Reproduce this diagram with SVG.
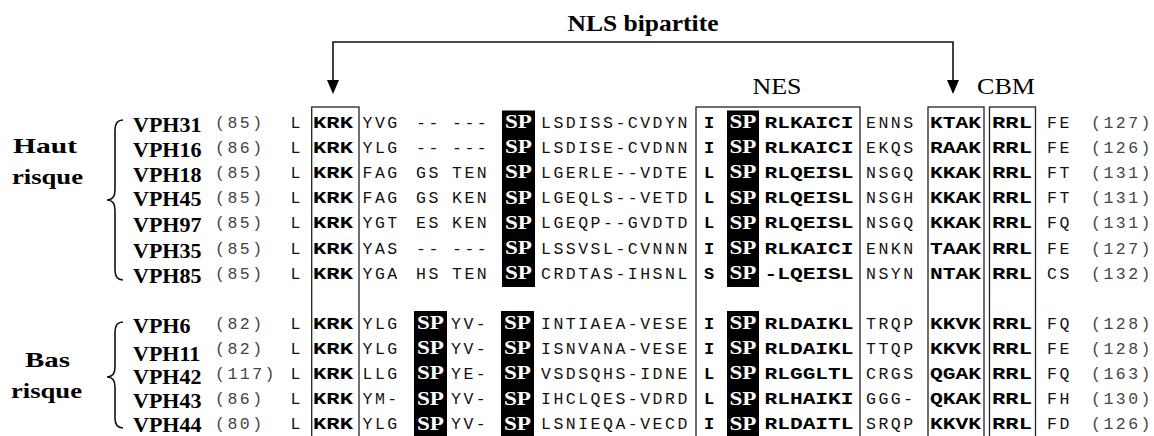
<svg xmlns="http://www.w3.org/2000/svg" width="1154" height="436" viewBox="0 0 1154 436">
  <style>
    .title { font-family: "Liberation Serif", serif; font-weight: bold; font-size: 24px; fill: #000; }
    .dom { font-family: "Liberation Serif", serif; font-size: 24px; fill: #000; }
    .grp { font-family: "Liberation Serif", serif; font-weight: bold; font-size: 22px; fill: #000; }
    .lbl { font-family: "Liberation Serif", serif; font-weight: bold; font-size: 22px; fill: #000; }
    .m { font-family: "Liberation Mono", "Courier New", monospace; font-size: 16.5px; letter-spacing: 2.5px; fill: #111; }
    .n { font-family: "Liberation Mono", "Courier New", monospace; font-size: 16.5px; letter-spacing: 2.5px; fill: #444; }
    .b { font-family: "Liberation Mono", "Courier New", monospace; font-weight: bold; font-size: 17px; fill: #000; }
    .w { font-family: "Liberation Serif", serif; font-weight: bold; font-size: 19px; fill: #fff; text-anchor: middle; }
    .box { fill: none; stroke: #222; stroke-width: 1.3; }
    .blk { fill: #000; }
    .brace { fill: none; stroke: #111; stroke-width: 1.6; }
    .conn { fill: none; stroke: #111; stroke-width: 1.6; }
  </style>
  <rect width="1154" height="436" fill="#fff"/>

  <!-- motif columns: outlined boxes and black SP cells -->
  <g id="motif-columns">
    <rect class="box" x="311.7" y="107" width="47.3" height="340"/>
    <rect class="box" x="696" y="107" width="164" height="340"/>
    <rect class="box" x="928" y="107" width="56" height="340"/>
    <rect class="box" x="989.5" y="107" width="46" height="340"/>
    <rect class="blk" x="502" y="110.5" width="33" height="176.5"/>
    <rect class="blk" x="727" y="110.5" width="32" height="176.5"/>
    <rect class="blk" x="414" y="311" width="33" height="130"/>
    <rect class="blk" x="501" y="311" width="33" height="130"/>
    <rect class="blk" x="727" y="311" width="32" height="130"/>
  </g>

  <!-- bipartite NLS connector -->
  <g id="connectors">
    <path class="conn" d="M333,80 L333,42 L953,42 L953,80"/>
    <path d="M327,80 L339,80 L333,94 Z" fill="#000"/>
    <path d="M947,80 L959,80 L953,94 Z" fill="#000"/>
  </g>

  <g id="title">
    <text class="title" x="567.5" y="31" textLength="151" lengthAdjust="spacingAndGlyphs">NLS bipartite</text>
  </g>
  <g id="label-nes">
    <text class="dom" x="752.5" y="94" textLength="49" lengthAdjust="spacingAndGlyphs">NES</text>
  </g>
  <g id="label-cbm">
    <text class="dom" x="977" y="94" textLength="58" lengthAdjust="spacingAndGlyphs">CBM</text>
  </g>

  <!-- risk groups -->
  <g id="group-haut">
    <text class="grp" x="13" y="153" textLength="64" lengthAdjust="spacingAndGlyphs">Haut</text>
    <text class="grp" x="12" y="184" textLength="71" lengthAdjust="spacingAndGlyphs">risque</text>
    <path class="brace" d="M123,120 Q115,120 115,130 L115,190 Q115,200 107,200 Q115,200 115,210 L115,270 Q115,280 123,280"/>
  </g>
  <g id="group-bas">
    <text class="grp" x="25" y="367" textLength="45" lengthAdjust="spacingAndGlyphs">Bas</text>
    <text class="grp" x="11" y="398" textLength="71" lengthAdjust="spacingAndGlyphs">risque</text>
    <path class="brace" d="M123,322 Q115,322 115,332 L115,367 Q115,377 107,377 Q115,377 115,387 L115,418 Q115,428 123,428"/>
  </g>

  <!-- high-risk rows -->
  <g id="row-vph31">
    <text class="lbl" x="133" y="131.5">VPH31</text>
    <text class="n" x="215" y="127.5">(85)</text>
    <text class="m" x="290.5" y="127.5">L</text>
    <text class="b" x="313" y="127.5" textLength="40" lengthAdjust="spacingAndGlyphs">KRK</text>
    <text class="m" x="362.5" y="127.5">YVG</text>
    <text class="m" x="416" y="127.5">--</text>
    <text class="m" x="452" y="127.5">---</text>
    <text class="w" x="518.5" y="128" textLength="27" lengthAdjust="spacingAndGlyphs">SP</text>
    <text class="m" x="541" y="127.5">LSDISS-CVDYN</text>
    <text class="b" x="709" y="127.5" text-anchor="middle">I</text>
    <text class="w" x="743" y="128" textLength="27" lengthAdjust="spacingAndGlyphs">SP</text>
    <text class="b" x="764.5" y="127.5" textLength="89" lengthAdjust="spacingAndGlyphs">RLKAICI</text>
    <text class="m" x="866" y="127.5">ENNS</text>
    <text class="b" x="930" y="127.5" textLength="51" lengthAdjust="spacingAndGlyphs">KTAK</text>
    <text class="b" x="992" y="127.5" textLength="40" lengthAdjust="spacingAndGlyphs">RRL</text>
    <text class="m" x="1047" y="127.5">FE</text>
    <text class="n" x="1091" y="127.5">(127)</text>
  </g>
  <g id="row-vph16">
    <text class="lbl" x="133" y="156.7">VPH16</text>
    <text class="n" x="215" y="152.7">(86)</text>
    <text class="m" x="290.5" y="152.7">L</text>
    <text class="b" x="313" y="152.7" textLength="40" lengthAdjust="spacingAndGlyphs">KRK</text>
    <text class="m" x="362.5" y="152.7">YLG</text>
    <text class="m" x="416" y="152.7">--</text>
    <text class="m" x="452" y="152.7">---</text>
    <text class="w" x="518.5" y="153.2" textLength="27" lengthAdjust="spacingAndGlyphs">SP</text>
    <text class="m" x="541" y="152.7">LSDISE-CVDNN</text>
    <text class="b" x="709" y="152.7" text-anchor="middle">I</text>
    <text class="w" x="743" y="153.2" textLength="27" lengthAdjust="spacingAndGlyphs">SP</text>
    <text class="b" x="764.5" y="152.7" textLength="89" lengthAdjust="spacingAndGlyphs">RLKAICI</text>
    <text class="m" x="866" y="152.7">EKQS</text>
    <text class="b" x="930" y="152.7" textLength="51" lengthAdjust="spacingAndGlyphs">RAAK</text>
    <text class="b" x="992" y="152.7" textLength="40" lengthAdjust="spacingAndGlyphs">RRL</text>
    <text class="m" x="1047" y="152.7">FE</text>
    <text class="n" x="1091" y="152.7">(126)</text>
  </g>
  <g id="row-vph18">
    <text class="lbl" x="133" y="181.7">VPH18</text>
    <text class="n" x="215" y="177.9">(85)</text>
    <text class="m" x="290.5" y="177.9">L</text>
    <text class="b" x="313" y="177.9" textLength="40" lengthAdjust="spacingAndGlyphs">KRK</text>
    <text class="m" x="362.5" y="177.9">FAG</text>
    <text class="m" x="416" y="177.9">GS</text>
    <text class="m" x="452" y="177.9">TEN</text>
    <text class="w" x="518.5" y="178.4" textLength="27" lengthAdjust="spacingAndGlyphs">SP</text>
    <text class="m" x="541" y="177.9">LGERLE--VDTE</text>
    <text class="b" x="709" y="177.9" text-anchor="middle">L</text>
    <text class="w" x="743" y="178.4" textLength="27" lengthAdjust="spacingAndGlyphs">SP</text>
    <text class="b" x="764.5" y="177.9" textLength="89" lengthAdjust="spacingAndGlyphs">RLQEISL</text>
    <text class="m" x="866" y="177.9">NSGQ</text>
    <text class="b" x="930" y="177.9" textLength="51" lengthAdjust="spacingAndGlyphs">KKAK</text>
    <text class="b" x="992" y="177.9" textLength="40" lengthAdjust="spacingAndGlyphs">RRL</text>
    <text class="m" x="1047" y="177.9">FT</text>
    <text class="n" x="1091" y="177.9">(131)</text>
  </g>
  <g id="row-vph45">
    <text class="lbl" x="133" y="206">VPH45</text>
    <text class="n" x="215" y="203.1">(85)</text>
    <text class="m" x="290.5" y="203.1">L</text>
    <text class="b" x="313" y="203.1" textLength="40" lengthAdjust="spacingAndGlyphs">KRK</text>
    <text class="m" x="362.5" y="203.1">FAG</text>
    <text class="m" x="416" y="203.1">GS</text>
    <text class="m" x="452" y="203.1">KEN</text>
    <text class="w" x="518.5" y="203.6" textLength="27" lengthAdjust="spacingAndGlyphs">SP</text>
    <text class="m" x="541" y="203.1">LGEQLS--VETD</text>
    <text class="b" x="709" y="203.1" text-anchor="middle">L</text>
    <text class="w" x="743" y="203.6" textLength="27" lengthAdjust="spacingAndGlyphs">SP</text>
    <text class="b" x="764.5" y="203.1" textLength="89" lengthAdjust="spacingAndGlyphs">RLQEISL</text>
    <text class="m" x="866" y="203.1">NSGH</text>
    <text class="b" x="930" y="203.1" textLength="51" lengthAdjust="spacingAndGlyphs">KKAK</text>
    <text class="b" x="992" y="203.1" textLength="40" lengthAdjust="spacingAndGlyphs">RRL</text>
    <text class="m" x="1047" y="203.1">FT</text>
    <text class="n" x="1091" y="203.1">(131)</text>
  </g>
  <g id="row-vph97">
    <text class="lbl" x="133" y="231.7">VPH97</text>
    <text class="n" x="215" y="228.3">(85)</text>
    <text class="m" x="290.5" y="228.3">L</text>
    <text class="b" x="313" y="228.3" textLength="40" lengthAdjust="spacingAndGlyphs">KRK</text>
    <text class="m" x="362.5" y="228.3">YGT</text>
    <text class="m" x="416" y="228.3">ES</text>
    <text class="m" x="452" y="228.3">KEN</text>
    <text class="w" x="518.5" y="228.8" textLength="27" lengthAdjust="spacingAndGlyphs">SP</text>
    <text class="m" x="541" y="228.3">LGEQP--GVDTD</text>
    <text class="b" x="709" y="228.3" text-anchor="middle">L</text>
    <text class="w" x="743" y="228.8" textLength="27" lengthAdjust="spacingAndGlyphs">SP</text>
    <text class="b" x="764.5" y="228.3" textLength="89" lengthAdjust="spacingAndGlyphs">RLQEISL</text>
    <text class="m" x="866" y="228.3">NSGQ</text>
    <text class="b" x="930" y="228.3" textLength="51" lengthAdjust="spacingAndGlyphs">KKAK</text>
    <text class="b" x="992" y="228.3" textLength="40" lengthAdjust="spacingAndGlyphs">RRL</text>
    <text class="m" x="1047" y="228.3">FQ</text>
    <text class="n" x="1091" y="228.3">(131)</text>
  </g>
  <g id="row-vph35">
    <text class="lbl" x="133" y="258">VPH35</text>
    <text class="n" x="215" y="253.5">(85)</text>
    <text class="m" x="290.5" y="253.5">L</text>
    <text class="b" x="313" y="253.5" textLength="40" lengthAdjust="spacingAndGlyphs">KRK</text>
    <text class="m" x="362.5" y="253.5">YAS</text>
    <text class="m" x="416" y="253.5">--</text>
    <text class="m" x="452" y="253.5">---</text>
    <text class="w" x="518.5" y="254" textLength="27" lengthAdjust="spacingAndGlyphs">SP</text>
    <text class="m" x="541" y="253.5">LSSVSL-CVNNN</text>
    <text class="b" x="709" y="253.5" text-anchor="middle">I</text>
    <text class="w" x="743" y="254" textLength="27" lengthAdjust="spacingAndGlyphs">SP</text>
    <text class="b" x="764.5" y="253.5" textLength="89" lengthAdjust="spacingAndGlyphs">RLKAICI</text>
    <text class="m" x="866" y="253.5">ENKN</text>
    <text class="b" x="930" y="253.5" textLength="51" lengthAdjust="spacingAndGlyphs">TAAK</text>
    <text class="b" x="992" y="253.5" textLength="40" lengthAdjust="spacingAndGlyphs">RRL</text>
    <text class="m" x="1047" y="253.5">FE</text>
    <text class="n" x="1091" y="253.5">(127)</text>
  </g>
  <g id="row-vph85">
    <text class="lbl" x="133" y="283">VPH85</text>
    <text class="n" x="215" y="278.7">(85)</text>
    <text class="m" x="290.5" y="278.7">L</text>
    <text class="b" x="313" y="278.7" textLength="40" lengthAdjust="spacingAndGlyphs">KRK</text>
    <text class="m" x="362.5" y="278.7">YGA</text>
    <text class="m" x="416" y="278.7">HS</text>
    <text class="m" x="452" y="278.7">TEN</text>
    <text class="w" x="518.5" y="279.2" textLength="27" lengthAdjust="spacingAndGlyphs">SP</text>
    <text class="m" x="541" y="278.7">CRDTAS-IHSNL</text>
    <text class="b" x="709" y="278.7" text-anchor="middle">S</text>
    <text class="w" x="743" y="279.2" textLength="27" lengthAdjust="spacingAndGlyphs">SP</text>
    <text class="b" x="764.5" y="278.7" textLength="89" lengthAdjust="spacingAndGlyphs">-LQEISL</text>
    <text class="m" x="866" y="278.7">NSYN</text>
    <text class="b" x="930" y="278.7" textLength="51" lengthAdjust="spacingAndGlyphs">NTAK</text>
    <text class="b" x="992" y="278.7" textLength="40" lengthAdjust="spacingAndGlyphs">RRL</text>
    <text class="m" x="1047" y="278.7">CS</text>
    <text class="n" x="1091" y="278.7">(132)</text>
  </g>

  <!-- low-risk rows -->
  <g id="row-vph6">
    <text class="lbl" x="133" y="333">VPH6</text>
    <text class="n" x="215" y="328.5">(82)</text>
    <text class="m" x="290.5" y="328.5">L</text>
    <text class="b" x="313" y="328.5" textLength="40" lengthAdjust="spacingAndGlyphs">KRK</text>
    <text class="m" x="362.5" y="328.5">YLG</text>
    <text class="w" x="430.5" y="329" textLength="27" lengthAdjust="spacingAndGlyphs">SP</text>
    <text class="m" x="451" y="328.5">YV-</text>
    <text class="w" x="517.5" y="329" textLength="27" lengthAdjust="spacingAndGlyphs">SP</text>
    <text class="m" x="541" y="328.5">INTIAEA-VESE</text>
    <text class="b" x="709" y="328.5" text-anchor="middle">I</text>
    <text class="w" x="743" y="329" textLength="27" lengthAdjust="spacingAndGlyphs">SP</text>
    <text class="b" x="764.5" y="328.5" textLength="89" lengthAdjust="spacingAndGlyphs">RLDAIKL</text>
    <text class="m" x="866" y="328.5">TRQP</text>
    <text class="b" x="930" y="328.5" textLength="51" lengthAdjust="spacingAndGlyphs">KKVK</text>
    <text class="b" x="992" y="328.5" textLength="40" lengthAdjust="spacingAndGlyphs">RRL</text>
    <text class="m" x="1047" y="328.5">FQ</text>
    <text class="n" x="1091" y="328.5">(128)</text>
  </g>
  <g id="row-vph11">
    <text class="lbl" x="133" y="361">VPH11</text>
    <text class="n" x="215" y="353.7">(82)</text>
    <text class="m" x="290.5" y="353.7">L</text>
    <text class="b" x="313" y="353.7" textLength="40" lengthAdjust="spacingAndGlyphs">KRK</text>
    <text class="m" x="362.5" y="353.7">YLG</text>
    <text class="w" x="430.5" y="354.2" textLength="27" lengthAdjust="spacingAndGlyphs">SP</text>
    <text class="m" x="451" y="353.7">YV-</text>
    <text class="w" x="517.5" y="354.2" textLength="27" lengthAdjust="spacingAndGlyphs">SP</text>
    <text class="m" x="541" y="353.7">ISNVANA-VESE</text>
    <text class="b" x="709" y="353.7" text-anchor="middle">I</text>
    <text class="w" x="743" y="354.2" textLength="27" lengthAdjust="spacingAndGlyphs">SP</text>
    <text class="b" x="764.5" y="353.7" textLength="89" lengthAdjust="spacingAndGlyphs">RLDAIKL</text>
    <text class="m" x="866" y="353.7">TTQP</text>
    <text class="b" x="930" y="353.7" textLength="51" lengthAdjust="spacingAndGlyphs">KKVK</text>
    <text class="b" x="992" y="353.7" textLength="40" lengthAdjust="spacingAndGlyphs">RRL</text>
    <text class="m" x="1047" y="353.7">FE</text>
    <text class="n" x="1091" y="353.7">(128)</text>
  </g>
  <g id="row-vph42">
    <text class="lbl" x="133" y="384">VPH42</text>
    <text class="n" x="215" y="378.9">(117)</text>
    <text class="m" x="290.5" y="378.9">L</text>
    <text class="b" x="313" y="378.9" textLength="40" lengthAdjust="spacingAndGlyphs">KRK</text>
    <text class="m" x="362.5" y="378.9">LLG</text>
    <text class="w" x="430.5" y="379.4" textLength="27" lengthAdjust="spacingAndGlyphs">SP</text>
    <text class="m" x="451" y="378.9">YE-</text>
    <text class="w" x="517.5" y="379.4" textLength="27" lengthAdjust="spacingAndGlyphs">SP</text>
    <text class="m" x="541" y="378.9">VSDSQHS-IDNE</text>
    <text class="b" x="709" y="378.9" text-anchor="middle">L</text>
    <text class="w" x="743" y="379.4" textLength="27" lengthAdjust="spacingAndGlyphs">SP</text>
    <text class="b" x="764.5" y="378.9" textLength="89" lengthAdjust="spacingAndGlyphs">RLGGLTL</text>
    <text class="m" x="866" y="378.9">CRGS</text>
    <text class="b" x="930" y="378.9" textLength="51" lengthAdjust="spacingAndGlyphs">QGAK</text>
    <text class="b" x="992" y="378.9" textLength="40" lengthAdjust="spacingAndGlyphs">RRL</text>
    <text class="m" x="1047" y="378.9">FQ</text>
    <text class="n" x="1091" y="378.9">(163)</text>
  </g>
  <g id="row-vph43">
    <text class="lbl" x="133" y="408">VPH43</text>
    <text class="n" x="215" y="404.1">(86)</text>
    <text class="m" x="290.5" y="404.1">L</text>
    <text class="b" x="313" y="404.1" textLength="40" lengthAdjust="spacingAndGlyphs">KRK</text>
    <text class="m" x="362.5" y="404.1">YM-</text>
    <text class="w" x="430.5" y="404.6" textLength="27" lengthAdjust="spacingAndGlyphs">SP</text>
    <text class="m" x="451" y="404.1">YV-</text>
    <text class="w" x="517.5" y="404.6" textLength="27" lengthAdjust="spacingAndGlyphs">SP</text>
    <text class="m" x="541" y="404.1">IHCLQES-VDRD</text>
    <text class="b" x="709" y="404.1" text-anchor="middle">L</text>
    <text class="w" x="743" y="404.6" textLength="27" lengthAdjust="spacingAndGlyphs">SP</text>
    <text class="b" x="764.5" y="404.1" textLength="89" lengthAdjust="spacingAndGlyphs">RLHAIKI</text>
    <text class="m" x="866" y="404.1">GGG-</text>
    <text class="b" x="930" y="404.1" textLength="51" lengthAdjust="spacingAndGlyphs">QKAK</text>
    <text class="b" x="992" y="404.1" textLength="40" lengthAdjust="spacingAndGlyphs">RRL</text>
    <text class="m" x="1047" y="404.1">FH</text>
    <text class="n" x="1091" y="404.1">(130)</text>
  </g>
  <g id="row-vph44">
    <text class="lbl" x="133" y="432">VPH44</text>
    <text class="n" x="215" y="429.3">(80)</text>
    <text class="m" x="290.5" y="429.3">L</text>
    <text class="b" x="313" y="429.3" textLength="40" lengthAdjust="spacingAndGlyphs">KRK</text>
    <text class="m" x="362.5" y="429.3">YLG</text>
    <text class="w" x="430.5" y="429.8" textLength="27" lengthAdjust="spacingAndGlyphs">SP</text>
    <text class="m" x="451" y="429.3">YV-</text>
    <text class="w" x="517.5" y="429.8" textLength="27" lengthAdjust="spacingAndGlyphs">SP</text>
    <text class="m" x="541" y="429.3">LSNIEQA-VECD</text>
    <text class="b" x="709" y="429.3" text-anchor="middle">I</text>
    <text class="w" x="743" y="429.8" textLength="27" lengthAdjust="spacingAndGlyphs">SP</text>
    <text class="b" x="764.5" y="429.3" textLength="89" lengthAdjust="spacingAndGlyphs">RLDAITL</text>
    <text class="m" x="866" y="429.3">SRQP</text>
    <text class="b" x="930" y="429.3" textLength="51" lengthAdjust="spacingAndGlyphs">KKVK</text>
    <text class="b" x="992" y="429.3" textLength="40" lengthAdjust="spacingAndGlyphs">RRL</text>
    <text class="m" x="1047" y="429.3">FD</text>
    <text class="n" x="1091" y="429.3">(126)</text>
  </g>
</svg>
